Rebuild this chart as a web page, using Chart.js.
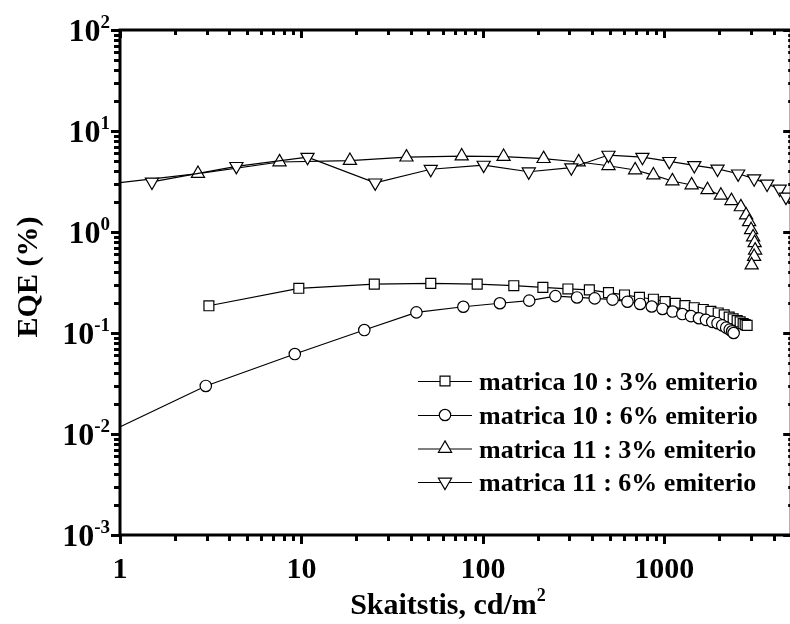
<!DOCTYPE html>
<html>
<head>
<meta charset="utf-8">
<script src="https://cdn.jsdelivr.net/npm/chart.js@4.4.1/dist/chart.umd.min.js"></script>
<style>
  html, body { margin: 0; padding: 0; background: #fff; overflow: hidden; }
  canvas { display: block; }
</style>
</head>
<body>
<canvas id="c" width="800" height="624"></canvas>
<script>
// Series names
const seriesLabels = [
  'matrica 10 : 3% emiterio',
  'matrica 10 : 6% emiterio',
  'matrica 11 : 3% emiterio',
  'matrica 11 : 6% emiterio'
];

// Luminance (cd/m2) and EQE (%) for each device
const m10p3Lum = [3.09, 9.67, 25.2, 51.6, 93, 148, 214, 294, 386, 492, 603, 729, 870, 1009, 1149, 1299, 1461, 1638, 1805, 1980, 2137, 2276, 2394, 2518, 2616, 2717, 2787, 2858];
const m10p3Eqe = [0.186, 0.277, 0.305, 0.310, 0.305, 0.294, 0.283, 0.273, 0.267, 0.251, 0.238, 0.226, 0.216, 0.205, 0.197, 0.187, 0.178, 0.171, 0.164, 0.158, 0.151, 0.144, 0.138, 0.133, 0.129, 0.124, 0.121, 0.119];

const m10p6Lum = [0.8, 2.97, 9.19, 22.2, 43, 78, 124, 180, 251, 330, 413, 518, 626, 735, 852, 977, 1110, 1256, 1402, 1551, 1695, 1835, 1963, 2083, 2191, 2291, 2363, 2409];
const m10p6Eqe = [0.0097, 0.0299, 0.0619, 0.107, 0.160, 0.182, 0.197, 0.209, 0.232, 0.225, 0.220, 0.214, 0.204, 0.194, 0.183, 0.173, 0.163, 0.154, 0.147, 0.140, 0.135, 0.129, 0.125, 0.119, 0.113, 0.108, 0.104, 0.100];

const m11p3Lum = [0.8, 2.69, 7.57, 18.5, 37.9, 76.4, 130, 216, 337, 492, 690, 870, 1107, 1413, 1729, 2049, 2342, 2639, 2821, 2931, 3006, 3083, 3143, 3163, 3123, 3027];
const m11p3Eqe = [2.95, 3.79, 4.93, 5.10, 5.50, 5.65, 5.57, 5.32, 4.93, 4.53, 4.11, 3.66, 3.20, 2.92, 2.61, 2.31, 2.04, 1.77, 1.47, 1.26, 1.05, 0.89, 0.78, 0.66, 0.57, 0.47];

const m11p6Lum = [1.5, 4.38, 10.8, 25.5, 51.6, 101, 179, 307, 492, 757, 1065, 1462, 1963, 2551, 3123, 3681, 4323, 4680];
const m11p6Eqe = [3.13, 4.47, 5.50, 3.07, 4.18, 4.60, 3.95, 4.33, 5.78, 5.51, 5.01, 4.57, 4.21, 3.77, 3.38, 2.99, 2.67, 2.22];

// Axis ticks
const xTickValues = [1, 10, 100, 1000];
const yTickExponents = [-3, -2, -1, 0, 1, 2];
const xTitle = 'Skaitstis, cd/m';
const xTitleSup = '2';
const yTitle = 'EQE (%)';

const SERIF = '"Liberation Serif", "Times New Roman", Times, serif';

function pairs(xs, ys) {
  return xs.map((v, i) => ({ x: v, y: ys[i] }));
}

function series(label, xs, ys, style, radius, rotation, order) {
  return {
    label: label,
    data: pairs(xs, ys),
    showLine: true,
    borderColor: '#000',
    borderWidth: 1.2,
    tension: 0,
    pointStyle: style,
    rotation: rotation,
    pointRadius: radius,
    pointBackgroundColor: '#fff',
    pointBorderColor: '#000',
    pointBorderWidth: 1.2,
    clip: 0,
    order: order
  };
}

const datasets = [
  series(seriesLabels[0], m10p3Lum, m10p3Eqe, 'rect', 7, 0, 4),
  series(seriesLabels[1], m10p6Lum, m10p6Eqe, 'circle', 5.7, 0, 3),
  series(seriesLabels[2], m11p3Lum, m11p3Eqe, 'triangle', 7.6, 0, 2),
  series(seriesLabels[3], m11p6Lum, m11p6Eqe, 'triangle', 7.6, 180, 1)
];

// Text with a raised exponent, drawn at (x, baseline)
function drawSupText(ctx, base, sup, x, y, baseSize, supSize, rise, align) {
  ctx.font = 'bold ' + baseSize + 'px ' + SERIF;
  const wb = ctx.measureText(base).width;
  ctx.font = 'bold ' + supSize + 'px ' + SERIF;
  const ws = ctx.measureText(sup).width;
  const total = wb + ws;
  let x0 = x;
  if (align === 'center') x0 = x - total / 2;
  else if (align === 'right') x0 = x - total;
  ctx.textAlign = 'left';
  ctx.textBaseline = 'alphabetic';
  ctx.font = 'bold ' + baseSize + 'px ' + SERIF;
  ctx.fillText(base, x0, y);
  ctx.font = 'bold ' + supSize + 'px ' + SERIF;
  ctx.fillText(sup, x0 + wb, y - rise);
}

// Axes frame with outward ticks on left/bottom and inward ticks on top/right
const framePlugin = {
  id: 'frame',
  afterDatasetsDraw(chart) {
    const ctx = chart.ctx;
    const a = chart.chartArea;
    const xs = chart.scales.x;
    const ys = chart.scales.y;
    ctx.save();
    ctx.strokeStyle = '#000';
    ctx.lineCap = 'butt';
    ctx.lineWidth = 3;

    const majLen = 8, minLen = 5;
    // x ticks
    for (let d = 0; d <= 4; d++) {
      for (let m = 1; m <= 9; m++) {
        const v = m * Math.pow(10, d);
        if (v < xs.min || v > xs.max) continue;
        const px = Math.round(xs.getPixelForValue(v)) + 0.5;
        const len = m === 1 ? majLen : minLen;
        ctx.beginPath();
        ctx.moveTo(px, a.bottom);
        ctx.lineTo(px, a.bottom + len + 1);
        ctx.moveTo(px, a.top);
        ctx.lineTo(px, a.top + len);
        ctx.stroke();
      }
    }
    // y ticks
    for (let e = -3; e <= 2; e++) {
      for (let m = 1; m <= 9; m++) {
        const v = m * Math.pow(10, e);
        if (v < ys.min * 0.999 || v > ys.max * 1.001) continue;
        const py = Math.round(ys.getPixelForValue(v)) + 0.5;
        const len = m === 1 ? majLen : minLen;
        ctx.beginPath();
        ctx.moveTo(a.left, py);
        ctx.lineTo(a.left - len - 1, py);
        ctx.moveTo(a.right, py);
        ctx.lineTo(a.right - (m === 1 ? len : 3), py);
        ctx.stroke();
      }
    }
    // axis lines
    ctx.beginPath();
    ctx.moveTo(a.left, a.top);
    ctx.lineTo(a.right, a.top);
    ctx.lineTo(a.right, a.bottom);
    ctx.lineTo(a.left, a.bottom);
    ctx.closePath();
    ctx.stroke();

    // tick labels
    ctx.fillStyle = '#000';
    ctx.font = 'bold 30px ' + SERIF;
    ctx.textAlign = 'center';
    ctx.textBaseline = 'alphabetic';
    xTickValues.forEach(v => {
      ctx.fillText(String(v), xs.getPixelForValue(v), 578);
    });
    yTickExponents.forEach(e => {
      const py = ys.getPixelForValue(Math.pow(10, e));
      drawSupText(ctx, '10', String(e), 110, py + 11, 32, 19, 13, 'right');
    });

    // axis titles
    drawSupText(ctx, xTitle, xTitleSup, 448, 614, 30, 18, 13, 'center');
    ctx.save();
    ctx.translate(37, 277);
    ctx.rotate(-Math.PI / 2);
    ctx.font = 'bold 30px ' + SERIF;
    ctx.textAlign = 'center';
    ctx.textBaseline = 'alphabetic';
    ctx.fillText(yTitle, 0, 0);
    ctx.restore();

    ctx.restore();
  }
};

// Legend inside the plot area
const legendPlugin = {
  id: 'insideLegend',
  afterDraw(chart) {
    const ctx = chart.ctx;
    const rowY = [381, 415, 448.5, 482];
    ctx.save();
    chart.data.datasets.forEach((ds, i) => {
      const y = rowY[i];
      ctx.strokeStyle = '#000';
      ctx.lineWidth = 1.2;
      ctx.beginPath();
      ctx.moveTo(418, y + 0.5);
      ctx.lineTo(472, y + 0.5);
      ctx.stroke();
      ctx.fillStyle = '#fff';
      Chart.helpers.drawPoint(ctx, {
        pointStyle: ds.pointStyle,
        rotation: ds.rotation,
        radius: ds.pointRadius,
        borderWidth: ds.pointBorderWidth
      }, 445, y);
      ctx.fillStyle = '#000';
      ctx.font = 'bold 26px ' + SERIF;
      ctx.textAlign = 'left';
      ctx.textBaseline = 'alphabetic';
      ctx.fillText(ds.label, 479, y + 9);
    });
    ctx.restore();
  }
};

new Chart(document.getElementById('c'), {
  type: 'scatter',
  data: { datasets: datasets },
  options: {
    responsive: false,
    animation: false,
    devicePixelRatio: 1,
    events: [],
    layout: { padding: { left: 120, top: 30, right: 7, bottom: 89 } },
    plugins: { legend: { display: false }, tooltip: { enabled: false } },
    scales: {
      x: {
        type: 'logarithmic',
        min: 1,
        max: 5000,
        ticks: { display: false },
        grid: { display: false },
        border: { display: false },
        afterFit(s) { s.height = 0; }
      },
      y: {
        type: 'logarithmic',
        min: 0.001,
        max: 100,
        ticks: { display: false },
        grid: { display: false },
        border: { display: false },
        afterFit(s) { s.width = 0; }
      }
    }
  },
  plugins: [framePlugin, legendPlugin]
});
</script>
</body>
</html>
